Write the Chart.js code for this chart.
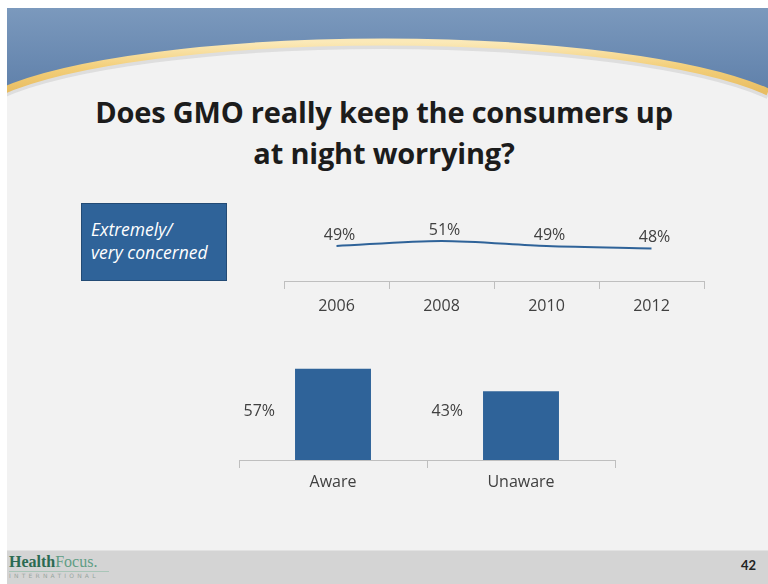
<!DOCTYPE html>
<html lang="en">
<head>
  <meta charset="UTF-8">
  <title>Does GMO really keep the consumers up at night worrying?</title>
  <script src="https://cdn.jsdelivr.net/npm/chart.js"></script>
  <style>
    html, body { margin: 0; padding: 0; background: #ffffff; }
    body { width: 768px; height: 584px; position: relative; overflow: hidden; font-family: 'Open Sans', sans-serif; }
    .slide { position: absolute; left: 7px; top: 8px; right: 0; bottom: 0; background: #f2f2f2; overflow: hidden; }
    #deco { position: absolute; left: 0; top: 0; }
    .title { position: absolute; left: 0; width: 768px; top: 91px; text-align: center; font-family: 'Open Sans', sans-serif; font-weight: bold; font-size: 29px; line-height: 41px; color: #1c1c1c; letter-spacing: -0.2px; }
    .box { position: absolute; left: 81px; top: 203px; width: 146px; height: 78px; background: #2f6399; border: 1px solid #234b75; color: #fff; font-style: italic; font-size: 17.5px; line-height: 23px; box-sizing: border-box; padding: 14px 0 0 9px; }
    .footer { position: absolute; left: 7px; top: 550px; right: 0; bottom: 0; background: #d4d4d4; border-top: 1px solid #e2e2e2; }
    .logo { position: absolute; left: 9px; top: 553px; font-family: 'Liberation Serif', serif; font-size: 16px; line-height: 17px; }
    .logo .h { color: #2b6a52; font-weight: bold; }
    .logo .f { color: #5f9d84; }
    .logo .intl { font-family: 'DejaVu Sans', sans-serif; font-size: 6px; letter-spacing: 3.2px; color: #9aa6a0; line-height: 8px; border-top: 1px solid #a9c5b8; margin-top: 1px; width: 100px; }
    .page { position: absolute; right: 12px; top: 557px; font-family: Lato, sans-serif; font-weight: bold; font-size: 13px; color: #222; }
    #lineWrap { position: absolute; left: 264px; top: 200px; width: 460px; height: 125px; }
    #barWrap { position: absolute; left: 219px; top: 300px; width: 416px; height: 204px; }
  </style>
</head>
<body>
  <div class="slide"></div>
  <svg id="deco" width="768" height="584">
    <defs>
      <linearGradient id="sky" x1="0" y1="0" x2="0" y2="1">
        <stop offset="0" stop-color="#7b99bd"/>
        <stop offset="1" stop-color="#5f80aa"/>
      </linearGradient>
      <linearGradient id="gold" x1="0" y1="0" x2="0" y2="1">
        <stop offset="0" stop-color="#fbe9b8"/>
        <stop offset="0.5" stop-color="#f3cf7a"/>
        <stop offset="1" stop-color="#e8bd62"/>
      </linearGradient>
    </defs>
    <path d="M7 8 H768 V90 A420 84 0 0 0 0 93 Z" fill="url(#sky)"/>
    <path d="M0 96 A420 84 0 0 1 768 96" fill="none" stroke="#c9c9c9" stroke-width="6" opacity="0.5"/>
    <path d="M0 92 A420 84 0 0 1 768 92" fill="none" stroke="url(#gold)" stroke-width="7"/>
    <rect x="0" y="0" width="7" height="584" fill="#ffffff"/>
  </svg>
  <div class="title">Does GMO really keep the consumers up<br>at night worrying?</div>
  <div class="box">Extremely/<br>very concerned</div>
  <div id="lineWrap"><canvas id="lineChart"></canvas></div>
  <div id="barWrap"><canvas id="barChart"></canvas></div>
  <div class="footer"></div>
  <div class="logo"><span class="h">Health</span><span class="f">Focus.</span><div class="intl">INTERNATIONAL</div></div>
  <div class="page">42</div>
  <script>
    const years = ['2006', '2008', '2010', '2012'];
    const concerned = [49, 51, 49, 48];
    const awareness = ['Aware', 'Unaware'];
    const awarenessShare = [57, 43];

    const blue = '#2f6399';
    const textColor = '#404040';
    const axisColor = '#bfbfbf';

    // writes "NN%" next to each mark
    function labelPlugin(place) {
      return {
        id: 'pctLabels',
        afterDatasetsDraw(chart) {
          const ctx = chart.ctx;
          const meta = chart.getDatasetMeta(0);
          const data = chart.data.datasets[0].data;
          ctx.save();
          ctx.font = '16px "Open Sans"';
          ctx.fillStyle = textColor;
          meta.data.forEach((el, i) => place(ctx, el, data[i] + '%'));
          ctx.restore();
        }
      };
    }

    function categoryAxis(pad) {
      return {
        offset: true,
        grid: { offset: true, drawOnChartArea: false, drawTicks: true, tickLength: 8, color: axisColor },
        border: { color: axisColor, width: 1 },
        ticks: { color: textColor, font: { family: 'Open Sans', size: 16 }, padding: pad },
        afterFit: s => { s.height = 40; }
      };
    }

    new Chart(document.getElementById('lineChart'), {
      type: 'line',
      data: {
        labels: years,
        datasets: [{ data: concerned, borderColor: blue, borderWidth: 2, pointRadius: 0, tension: 0.3, fill: false }]
      },
      options: {
        responsive: true,
        maintainAspectRatio: false,
        animation: false,
        layout: { padding: { left: 20, right: 20, top: 0, bottom: 4 } },
        plugins: { legend: { display: false }, tooltip: { enabled: false } },
        scales: {
          x: categoryAxis(8),
          y: { display: false, min: 35, max: 67.4 }
        }
      },
      plugins: [labelPlugin((ctx, el, txt) => {
        ctx.textAlign = 'center';
        ctx.textBaseline = 'bottom';
        ctx.fillText(txt, el.x + 3, el.y - 3);
      })]
    });

    new Chart(document.getElementById('barChart'), {
      type: 'bar',
      data: {
        labels: awareness,
        datasets: [{ data: awarenessShare, backgroundColor: blue, borderWidth: 0, categoryPercentage: 1, barPercentage: 0.404 }]
      },
      options: {
        responsive: true,
        maintainAspectRatio: false,
        animation: false,
        layout: { padding: { left: 20, right: 20, top: 0, bottom: 4 } },
        plugins: { legend: { display: false }, tooltip: { enabled: false } },
        scales: {
          x: categoryAxis(5),
          y: { display: false, min: 0, max: 100 }
        }
      },
      plugins: [labelPlugin((ctx, el, txt) => {
        ctx.textAlign = 'right';
        ctx.textBaseline = 'middle';
        ctx.fillText(txt, el.x - el.width / 2 - 20, el.base - 49);
      })]
    });
  </script>
</body>
</html>
